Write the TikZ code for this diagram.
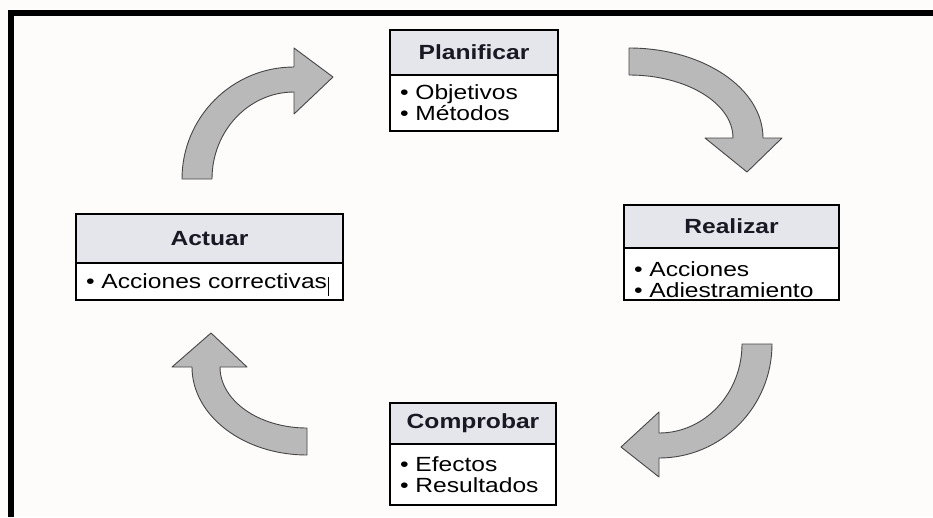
\documentclass[tikz,border=0pt]{standalone}
\usepackage{fontspec}
\setmainfont{Liberation Sans}[FakeStretch=1.2]
\definecolor{bgcol}{RGB}{253,252,250}
\definecolor{hdrfill}{RGB}{229,229,236}
\definecolor{hdrtext}{RGB}{25,25,35}
\definecolor{arrowfill}{RGB}{185,185,185}
\definecolor{arrowline}{RGB}{70,70,70}
\begin{document}
\begin{tikzpicture}[x=1pt,y=-1pt,
  hdr/.style={draw=black, line width=1.4pt, fill=hdrfill, text=hdrtext,
    font=\fontsize{20.5}{21}\selectfont\bfseries, inner sep=0pt, outer sep=0pt,
    anchor=north west},
  lst/.style={draw=black, line width=1.4pt, fill=white, text=black,
    font=\fontsize{20.5}{21}\selectfont, inner xsep=10pt, inner ysep=0pt,
    outer sep=0pt, align=left, anchor=north west},
  cyc/.style={draw=arrowline, line width=0.9pt, fill=arrowfill, line join=round}
]
\useasboundingbox (0,0) rectangle (933,517);
\fill[bgcol] (0,0) rectangle (933,517);

% page frame (top and left rules)
\fill[black] (8,10) rectangle (933,16);
\fill[black] (8,10) rectangle (14,517);

% Planificar
\node[hdr, minimum width=168, minimum height=45] (plan-h) at (390,30) {Planificar};
\node[lst, minimum width=168, minimum height=56, text width=148] (plan-b)
  at (plan-h.south west) {• Objetivos\\• Métodos};

% Realizar (list sits low in its box)
\node[hdr, minimum width=215, minimum height=43] (real-h) at (624,205) {Realizar};
\node[lst, minimum width=215, minimum height=52, text width=195] (real-b)
  at (real-h.south west) {\rule{0pt}{27pt}• Acciones\\• Adiestramiento};

% Comprobar
\node[hdr, minimum width=166, minimum height=41] (comp-h) at (390,403) {Comprobar};
\node[lst, minimum width=166, minimum height=61, text width=146] (comp-b)
  at (comp-h.south west) {• Efectos\\• Resultados};

% Actuar
\node[hdr, minimum width=267, minimum height=49] (act-h) at (76,214) {Actuar};
\node[lst, minimum width=267, minimum height=37, text width=247] (act-b)
  at (act-h.south west) {• Acciones correctivas\hspace{1pt}\smash{\rule[-7pt]{1pt}{19pt}}};

% curved block arrows of the cycle
% Actuar -> Planificar
\path[cyc] (182,179) -- (212,179)
  arc[start angle=180, end angle=270, x radius=82, y radius=87]
  -- (294,114) -- (333,77) -- (294,48) -- (294,67)
  arc[start angle=270, end angle=180, x radius=112, y radius=112] -- cycle;
% Planificar -> Realizar
\path[cyc] (629,48) -- (629,75)
  arc[start angle=270, end angle=360, x radius=104, y radius=63]
  -- (705,138) -- (747,172) -- (782,138) -- (763,138)
  arc[start angle=0, end angle=-90, x radius=134, y radius=90] -- cycle;
% Realizar -> Comprobar
\path[cyc] (742,344) -- (772,344)
  arc[start angle=0, end angle=90, x radius=113, y radius=114]
  -- (659,477) -- (621,447) -- (659,412) -- (659,433)
  arc[start angle=90, end angle=0, x radius=83, y radius=89] -- cycle;
% Comprobar -> Actuar
\path[cyc] (307,428) -- (307,455)
  arc[start angle=90, end angle=180, x radius=115, y radius=88]
  -- (172,367) -- (211,333) -- (247,367) -- (220,367)
  arc[start angle=180, end angle=90, x radius=87, y radius=61] -- cycle;
\end{tikzpicture}
\end{document}
